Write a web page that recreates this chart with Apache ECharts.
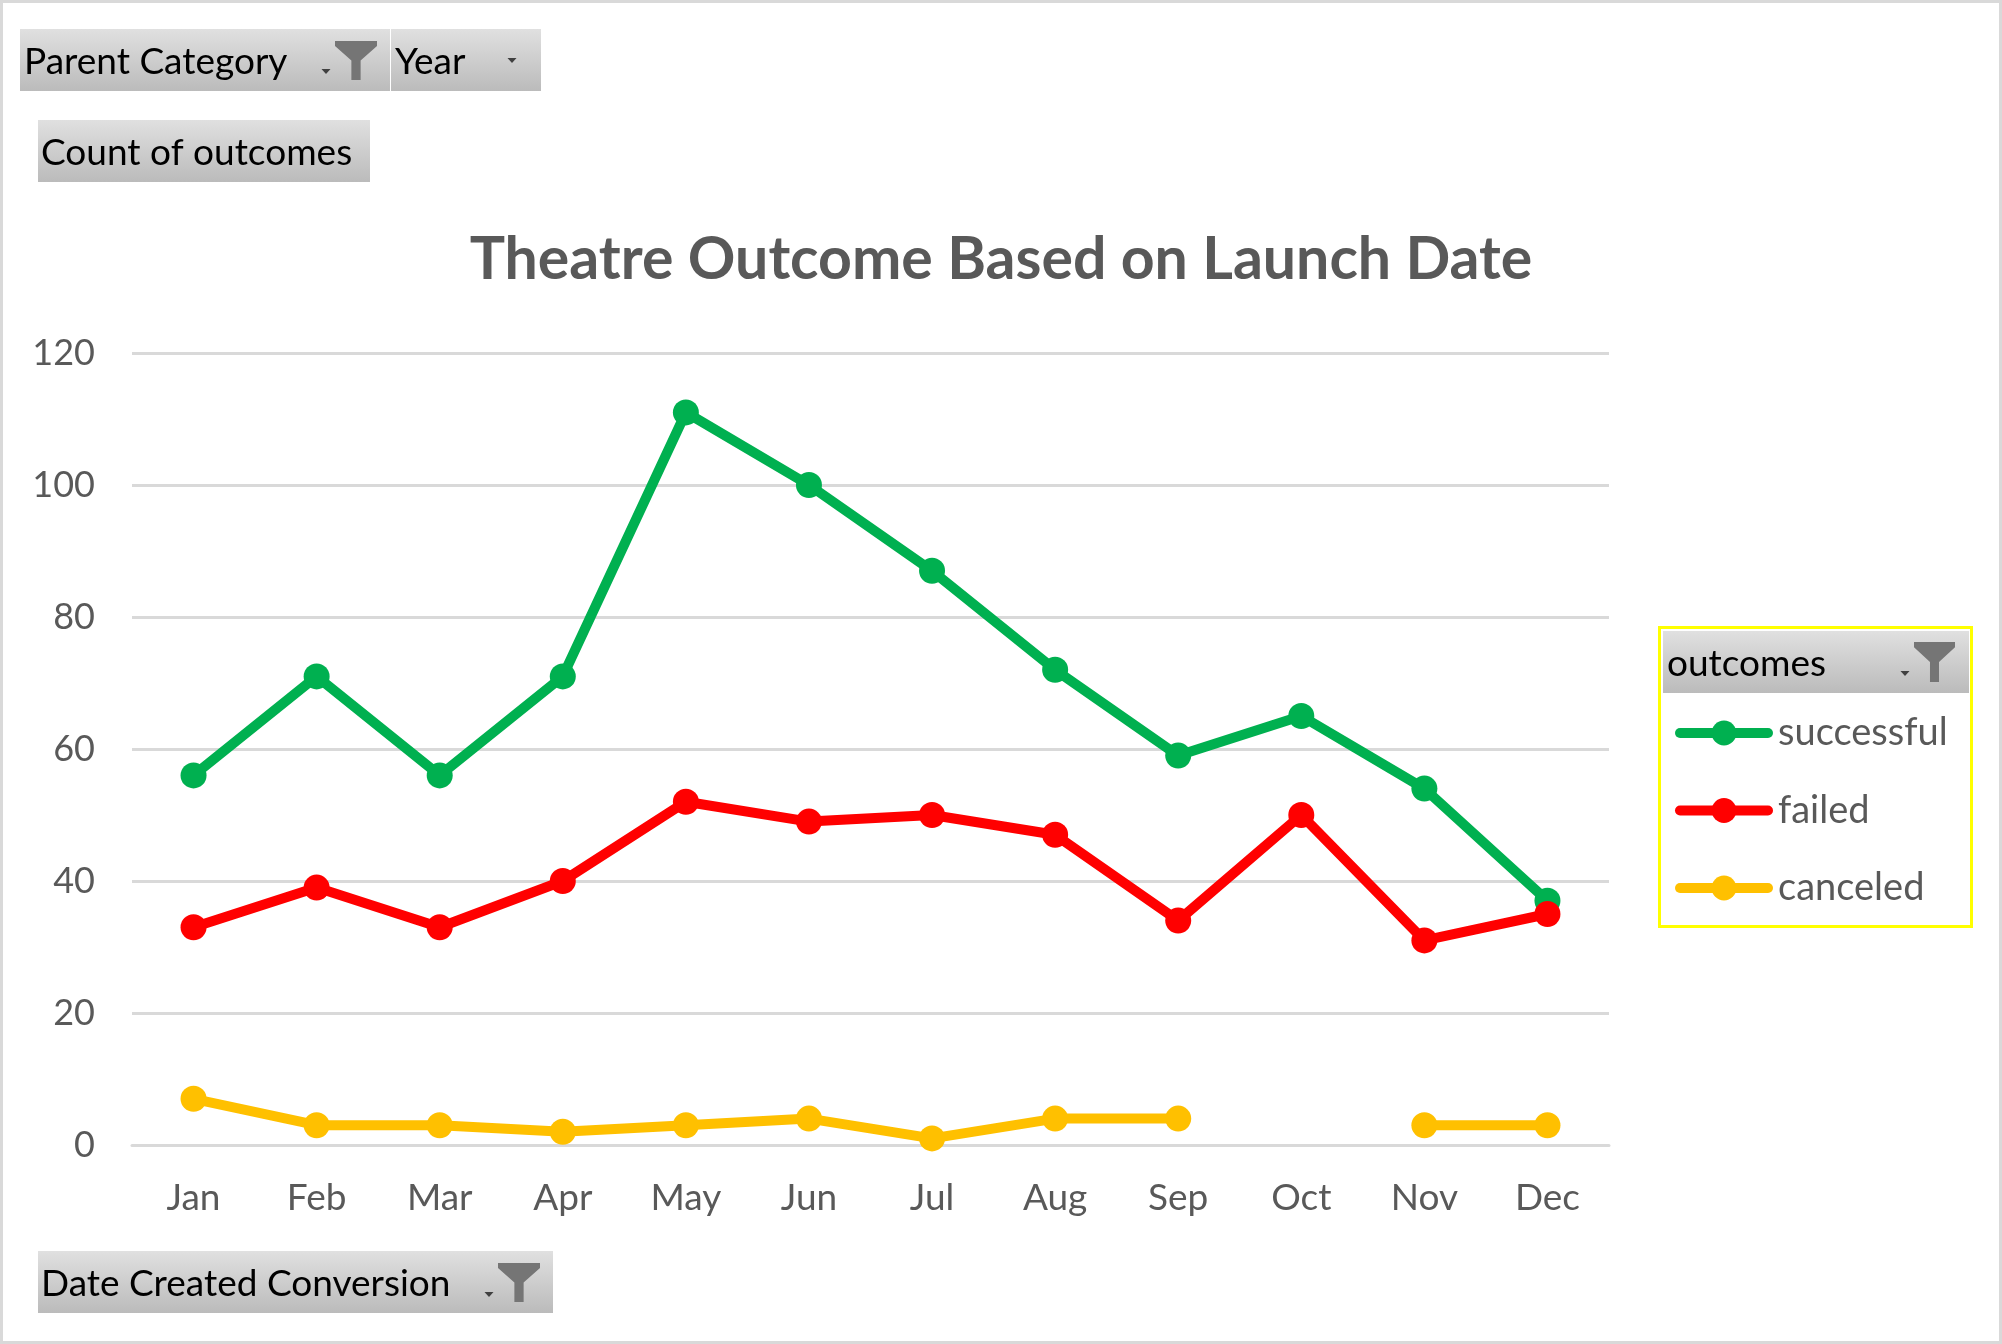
<!DOCTYPE html>
<html><head><meta charset="utf-8">
<style>html,body{margin:0;padding:0;background:#fff}#c{width:2002px;height:1344px}</style>
<script src="https://cdn.jsdelivr.net/npm/echarts@6/dist/echarts.min.js"></script>
</head><body><div id="c"></div>
<script>
const categories = ['Jan','Feb','Mar','Apr','May','Jun','Jul','Aug','Sep','Oct','Nov','Dec'];
const successful = [56,71,56,71,111,100,87,72,59,65,54,37];
const failed = [33,39,33,40,52,49,50,47,34,50,31,35];
const canceled = [7,3,3,2,3,4,1,4,4,null,3,3];
const FONT = 'Lato, "Open Sans", sans-serif';
const chart = echarts.init(document.getElementById('c'), null, {renderer:'canvas', width:2002, height:1344});
const grad = new echarts.graphic.LinearGradient(0,0,0,1,[{offset:0,color:'#e0e0e0'},{offset:1,color:'#bbbbbb'}]);
function button(x0,y0,x1,y1,text,tx){
  return [
    {type:'rect',shape:{x:x0,y:y0,width:x1-x0,height:y1-y0},style:{fill:grad},z:1},
    {type:'text',x:tx,y:(y0+y1)/2+2,style:{text:text,fill:'#000',font:'37px '+FONT,textVerticalAlign:'middle',textAlign:'left'},z:2}
  ];
}
function funnel(x0,x1,y0,y1){
  const cx=(x0+x1)/2, w=x1-x0, h=y1-y0, s=w*0.11;
  return {type:'polygon',shape:{points:[[x0,y0],[x1,y0],[x1,y0+h*0.13],[cx+s,y0+h*0.5],[cx+s,y1],[cx-s,y1],[cx-s,y0+h*0.5],[x0,y0+h*0.13]]},style:{fill:'#757575'},z:3};
}
function arrow(cx,y){
  return {type:'polygon',shape:{points:[[cx-4.5,y],[cx+4.5,y],[cx,y+5]]},style:{fill:'#404040'},z:3};
}
const graphics = [
  {type:'rect',shape:{x:1.5,y:1.5,width:1999,height:1341},style:{fill:'#fff',stroke:'#d9d9d9',lineWidth:3},z:-10},
  ...button(20,29,390,91,'Parent Category',24), funnel(335,377,41,80), arrow(326,69),
  ...button(391,29,541,91,'Year',395), arrow(512,58),
  ...button(38,120,370,182,'Count of outcomes',41),
  ...button(38,1251,553,1313,'Date Created Conversion',41), funnel(498,540,1263,1302), arrow(489,1292),
  {type:'rect',shape:{x:1659.5,y:627.5,width:312,height:299},style:{fill:'#fff',stroke:'#ffff00',lineWidth:3},z:0},
  ...button(1663,631,1969,693,'outcomes',1667), funnel(1914,1955,642,682), arrow(1905,671)
];
chart.setOption({
  animation:false,
  backgroundColor:'#fff',
  title:{text:'Theatre Outcome Based on Launch Date',left:'center',top:225,textStyle:{color:'#595959',fontFamily:FONT,fontWeight:'bold',fontSize:59}},
  grid:{left:132,right:393,top:353,bottom:199,containLabel:false},
  xAxis:{type:'category',data:categories,boundaryGap:true,
    axisLine:{lineStyle:{color:'#d9d9d9',width:3}},axisTick:{show:false},
    axisLabel:{color:'#595959',fontFamily:FONT,fontSize:37,margin:35}},
  yAxis:{type:'value',min:0,max:120,interval:20,
    axisLine:{show:false},axisTick:{show:false},
    splitLine:{lineStyle:{color:'#d9d9d9',width:3}},
    axisLabel:{color:'#595959',fontFamily:FONT,fontSize:36,margin:37}},
  legend:{orient:'vertical',left:1675,top:713,itemWidth:88,itemHeight:31,itemGap:37.5,padding:0,
    data:['successful','failed','canceled'],
    lineStyle:{width:10,cap:'round'},
    textStyle:{color:'#595959',fontFamily:FONT,fontSize:38,lineHeight:40,padding:[0,0,0,5]},z:5},
  series:[
    {name:'successful',type:'line',data:successful,color:'#00b050'},
    {name:'failed',type:'line',data:failed,color:'#ff0000'},
    {name:'canceled',type:'line',data:canceled,color:'#ffc000'}
  ].map(s=>Object.assign(s,{symbol:'circle',symbolSize:26,showSymbol:true,smooth:false,connectNulls:false,
    lineStyle:{width:10,cap:'round',join:'round'},z:4})),
  graphic:graphics
});
</script></body></html>
